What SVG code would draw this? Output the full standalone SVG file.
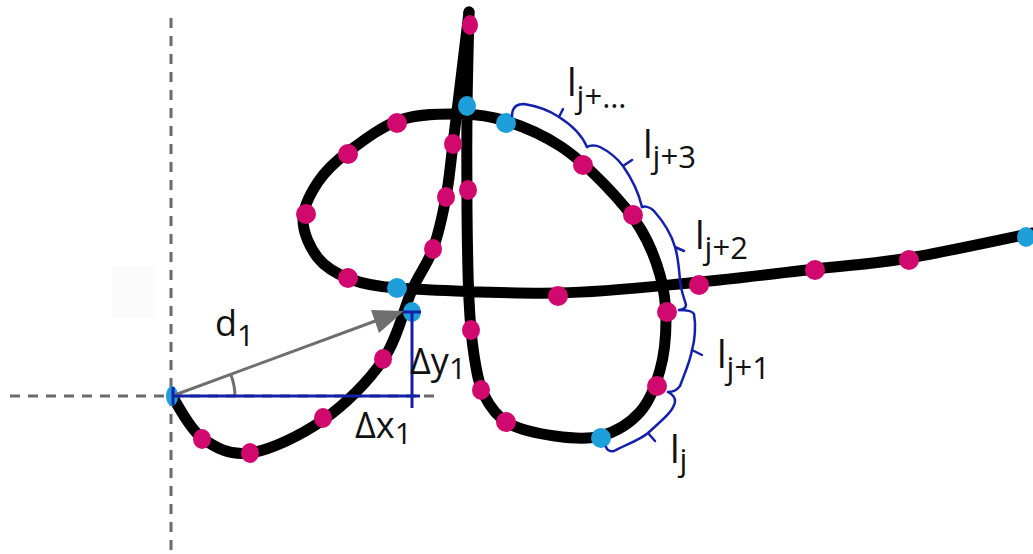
<svg xmlns="http://www.w3.org/2000/svg" width="1033" height="554" viewBox="0 0 1033 554">
<style>
.axis{stroke:#6a6a6a;stroke-width:3;stroke-dasharray:10 8;fill:none}
.ink{stroke:#000;stroke-width:11;fill:none;stroke-linecap:round;stroke-linejoin:round}
.pt{fill:#d1096f}
.st{fill:#1f9fda}
.blue{stroke:#1420aa;stroke-width:3;fill:none}
.brace{stroke:#1420aa;stroke-width:2.5;fill:none;stroke-linecap:round;stroke-linejoin:round}
.gray{stroke:#6e6e6e;stroke-width:3;fill:none}
text{font-family:"Open Sans","Liberation Sans",sans-serif;fill:#111}
</style>
<rect width="1033" height="554" fill="#fff"/>
<rect x="112" y="266" width="44" height="52" fill="#fbfbfb"/>
<g id="axes">
<line class="axis" x1="171" y1="18" x2="171" y2="554"/>
<line class="axis" x1="10" y1="396" x2="440" y2="396"/>
</g>
<g id="stroke">
<path class="ink" d="M172,396 C177,403 189,428.5 202,438 C215,447.5 229.8,456 250,453 C270.2,450 300.8,435.5 323,420 C345.2,404.5 368.2,381.7 383,360 C397.8,338.3 403.7,308.5 412,290 C420.3,271.5 427.3,264.5 433,249 C438.7,233.5 442.7,214.5 446,197 C449.3,179.5 449.2,174.8 453,144 C456.8,113.2 466.3,34 469,12"/>
<path class="ink" d="M469,12 C468.7,28.3 467.3,77 467,110 C466.7,143 466.7,178.3 467,210 C467.3,241.7 467.8,275.8 469,300 C470.2,324.2 471.5,339.2 474,355 C476.5,370.8 478.3,383.7 484,395 C489.7,406.3 496.2,416.2 508,423 C519.8,429.8 539.5,433.8 555,436 C570.5,438.2 586.8,440 601,436 C615.2,432 630.2,423 640,412 C649.8,401 655.7,385.3 660,370 C664.3,354.7 666,335.8 666,320 C666,304.2 664.3,290.3 660,275 C655.7,259.7 649.2,243 640,228 C630.8,213 618.3,198.7 605,185 C591.7,171.3 576.5,156.7 560,146 C543.5,135.3 522.7,126.3 506,121 C489.3,115.7 477.7,114.2 460,114 C442.3,113.8 418.7,113.7 400,120 C381.3,126.3 361.7,141.7 348,152 C334.3,162.3 325.5,170.7 318,182 C310.5,193.3 303,207.3 303,220 C303,232.7 310.2,248.2 318,258 C325.8,267.8 336.8,274 350,279 C363.2,284 375,286.5 397,288 C419,289.5 507.7,294 558,293 C608.3,292 656.2,286 699,282 C741.8,278 780,273 815,269 C850,265 872.7,264 909,258 C945.3,252 1012.3,237.2 1033,233"/>
</g>
<g id="samples">
<ellipse class="pt" cx="202" cy="439" rx="9" ry="10"/>
<ellipse class="pt" cx="250" cy="453" rx="9" ry="10"/>
<ellipse class="pt" cx="323" cy="418" rx="9" ry="10"/>
<ellipse class="pt" cx="383" cy="359" rx="9" ry="10"/>
<ellipse class="pt" cx="433" cy="249" rx="9" ry="10"/>
<ellipse class="pt" cx="446" cy="197" rx="9" ry="10"/>
<ellipse class="pt" cx="453" cy="144" rx="9" ry="10"/>
<ellipse class="pt" cx="470" cy="25" rx="8" ry="10"/>
<ellipse class="pt" cx="468" cy="190" rx="9" ry="10"/>
<ellipse class="pt" cx="471" cy="330" rx="9" ry="10"/>
<ellipse class="pt" cx="481" cy="390" rx="9" ry="10"/>
<ellipse class="pt" cx="506" cy="422" rx="10" ry="10"/>
<ellipse class="pt" cx="657" cy="386" rx="10" ry="10"/>
<ellipse class="pt" cx="667" cy="312" rx="10" ry="10"/>
<ellipse class="pt" cx="633" cy="215" rx="10" ry="10"/>
<ellipse class="pt" cx="583" cy="165" rx="10" ry="10"/>
<ellipse class="pt" cx="397" cy="123" rx="10" ry="10"/>
<ellipse class="pt" cx="348" cy="154" rx="10" ry="10"/>
<ellipse class="pt" cx="306" cy="214" rx="10" ry="10"/>
<ellipse class="pt" cx="348" cy="278" rx="10" ry="10"/>
<ellipse class="pt" cx="558" cy="296" rx="10" ry="10"/>
<ellipse class="pt" cx="699" cy="285" rx="10" ry="10"/>
<ellipse class="pt" cx="815" cy="270" rx="10" ry="10"/>
<ellipse class="pt" cx="909" cy="260" rx="10" ry="10"/>
<ellipse class="st" cx="172" cy="396" rx="6" ry="10"/>
<ellipse class="st" cx="397" cy="288" rx="10" ry="10"/>
<ellipse class="st" cx="467" cy="106" rx="9" ry="10"/>
<ellipse class="st" cx="506" cy="123" rx="10" ry="10"/>
<ellipse class="st" cx="601" cy="438" rx="10" ry="10"/>
<ellipse class="st" cx="1026" cy="237" rx="9" ry="10"/>
</g>
<g id="vector">
<line class="gray" x1="172" y1="396" x2="378" y2="320"/>
<polygon points="404,311 379,333 371,310" fill="#6e6e6e"/>
<path class="gray" d="M235,396 A63,63 0 0 0 231,375"/>
<ellipse class="st" cx="412" cy="312" rx="9" ry="10"/>
<line class="blue" x1="172" y1="396" x2="420" y2="396"/>
<line class="blue" x1="173" y1="387" x2="173" y2="405"/>
<line class="blue" x1="412" y1="312" x2="412" y2="408"/>
<line class="blue" x1="403" y1="312" x2="421" y2="312"/>
</g>
<g id="braces">
<path class="brace" d="M512,116 C512,108 516,104 524,104 C537,106 550,111 559,117 C570,124 582,135 587,147 M559,117 L563,109"/>
<path class="brace" d="M587,147 C590,145 596,145 600,147 C608,151 617,158 623,166 C630,176 638,190 642,207 M623,166 L632,160"/>
<path class="brace" d="M642,207 C645,206 650,207 654,211 C662,220 671,233 675,247 C678,256 679,268 680,280 C681,292 685,300 686,305 C686,308 682,310 679,310 M675,247 L684,251"/>
<path class="brace" d="M679,310 C684,310 692,310 694,314 C696,325 695,340 692,350 C690,362 684,375 680,386 C677,390 672,392 668,392 M692,350 L702,355"/>
<path class="brace" d="M668,392 C672,394 676,398 675,402 C673,412 662,420 648,433 C640,440 625,445 614,451 C610,452 607,450 606,447 M648,433 L655,441"/>
</g>
<g id="labels">
<text font-size="36" x="215" y="336">d<tspan font-size="30" dy="10">1</tspan></text>
<text font-size="36" x="410" y="374">Δy<tspan font-size="30" dy="5">1</tspan></text>
<text font-size="36" x="355" y="438">Δx<tspan font-size="30" dy="6">1</tspan></text>
<text font-size="38" x="567" y="96">l<tspan font-size="31" dy="12">j+…</tspan></text>
<text font-size="38" x="643" y="158">l<tspan font-size="31" dy="10">j+3</tspan></text>
<text font-size="38" x="695" y="249">l<tspan font-size="31" dy="10">j+2</tspan></text>
<text font-size="38" x="717" y="368">l<tspan font-size="31" dy="11">j+1</tspan></text>
<text font-size="38" x="670" y="463">l<tspan font-size="31" dy="8">j</tspan></text>
</g>
</svg>
